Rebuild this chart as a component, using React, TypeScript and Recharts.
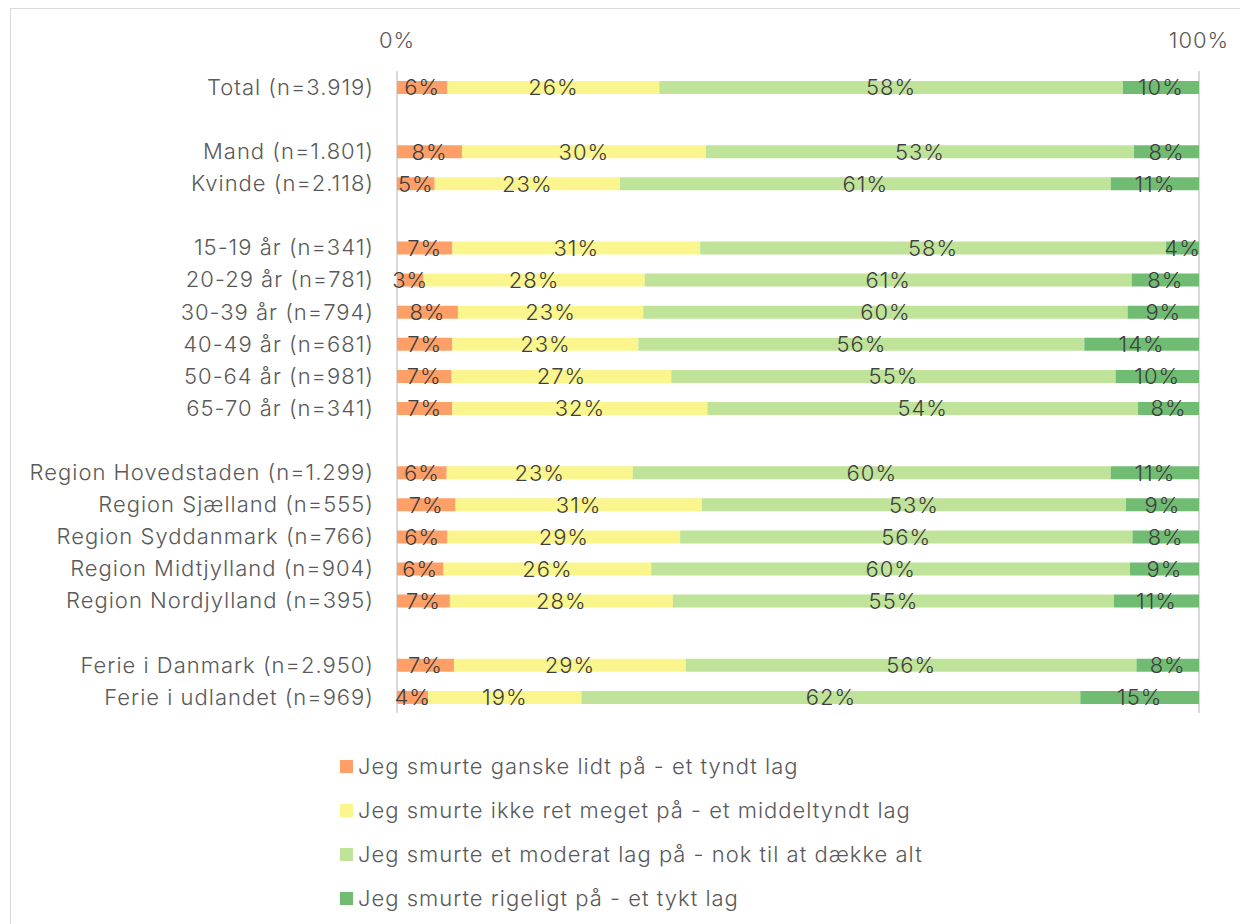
import { BarChart, Bar, XAxis, YAxis, CartesianGrid, Legend, LabelList } from 'recharts';

const categories = [
  'Total (n=3.919)',
  '',
  'Mand (n=1.801)',
  'Kvinde (n=2.118)',
  '',
  '15-19 år (n=341)',
  '20-29 år (n=781)',
  '30-39 år (n=794)',
  '40-49 år (n=681)',
  '50-64 år (n=981)',
  '65-70 år (n=341)',
  '',
  'Region Hovedstaden (n=1.299)',
  'Region Sjælland (n=555)',
  'Region Syddanmark (n=766)',
  'Region Midtjylland (n=904)',
  'Region Nordjylland (n=395)',
  '',
  'Ferie i Danmark (n=2.950)',
  'Ferie i udlandet (n=969)',
];

const thinLayer = [6.3, null, 8.1, 4.7, null, 6.9, 3.3, 7.6, 6.9, 6.8, 6.9, null, 6.2, 7.3, 6.3, 5.8, 6.6, null, 7.1, 3.9];
const mediumLayer = [26.4, null, 30.4, 23.1, null, 30.9, 27.6, 23.1, 23.2, 27.4, 31.8, null, 23.2, 30.7, 29.0, 25.9, 27.8, null, 28.9, 19.1];
const moderateLayer = [57.8, null, 53.4, 61.2, null, 58.1, 60.7, 60.4, 55.6, 55.4, 53.7, null, 59.6, 52.9, 56.4, 59.7, 55.0, null, 56.2, 62.2];
const thickLayer = [9.5, null, 8.1, 11.0, null, 4.1, 8.4, 8.9, 14.3, 10.4, 7.6, null, 11.0, 9.1, 8.3, 8.6, 10.6, null, 7.8, 14.8];

const seriesNames = [
  'Jeg smurte ganske lidt på - et tyndt lag',
  'Jeg smurte ikke ret meget på - et middeltyndt lag',
  'Jeg smurte et moderat lag på - nok til at dække alt',
  'Jeg smurte rigeligt på - et tykt lag',
];
const colors = ['#FF9F68', '#FAF58C', '#BFE399', '#71BC73'];

const xTicks = [0, 100];

const FONT = 'Inter, "Open Sans", sans-serif';
const FS = 22;
const LS = 1;

const data = categories.map((name, i) => ({
  name,
  thin: thinLayer[i],
  medium: mediumLayer[i],
  moderate: moderateLayer[i],
  thick: thickLayer[i],
}));

const keys = ['thin', 'medium', 'moderate', 'thick'];

const pct = (v: any) => (v == null ? '' : `${Math.round(Number(v))}%`);

const textStyle = { fontSize: FS, fontFamily: FONT, fontWeight: 300, letterSpacing: LS };

function LegendBox() {
  return (
    <div style={{ ...textStyle, color: '#595959' }}>
      {seriesNames.map((s, i) => (
        <div key={s} style={{ display: 'flex', alignItems: 'center', height: 44 }}>
          <span style={{ width: 13, height: 13, background: colors[i], marginRight: 5, display: 'inline-block' }} />
          <span>{s}</span>
        </div>
      ))}
    </div>
  );
}

export default function App() {
  return (
    <div
      style={{
        marginLeft: 2,
        width: 1238,
        height: 916,
        borderTop: '1px solid #d9d9d9',
        borderLeft: '1px solid #d9d9d9',
        fontFamily: FONT,
        background: '#fff',
      }}
    >
      <BarChart
        width={1237}
        height={915}
        data={data}
        layout="vertical"
        margin={{ top: 10, right: 49, bottom: 211, left: 0 }}
        barSize={13}
      >
        <CartesianGrid horizontal={false} vertical stroke="#d9d9d9" strokeWidth={2} verticalValues={xTicks} />
        <XAxis
          type="number"
          orientation="top"
          domain={[0, 100]}
          ticks={xTicks}
          tickFormatter={(v) => `${v}%`}
          axisLine={false}
          tickLine={false}
          height={52}
          tickMargin={17}
          tick={{ fill: '#595959', ...textStyle }}
        />
        <YAxis
          type="category"
          dataKey="name"
          width={386}
          axisLine={false}
          tickLine={false}
          interval={0}
          tickMargin={17}
          tick={{ fill: '#595959', ...textStyle }}
        />
        {keys.map((k, i) => (
          <Bar key={k} dataKey={k} name={seriesNames[i]} stackId="a" fill={colors[i]} isAnimationActive={false}>
            <LabelList
              dataKey={k}
              position="center"
              formatter={pct}
              style={{ fill: '#404040', ...textStyle }}
            />
          </Bar>
        ))}
        <Legend
          layout="vertical"
          align="center"
          verticalAlign="middle"
          content={() => <LegendBox />}
          wrapperStyle={{ left: 329, top: 735, width: 700 }}
        />
      </BarChart>
    </div>
  );
}
